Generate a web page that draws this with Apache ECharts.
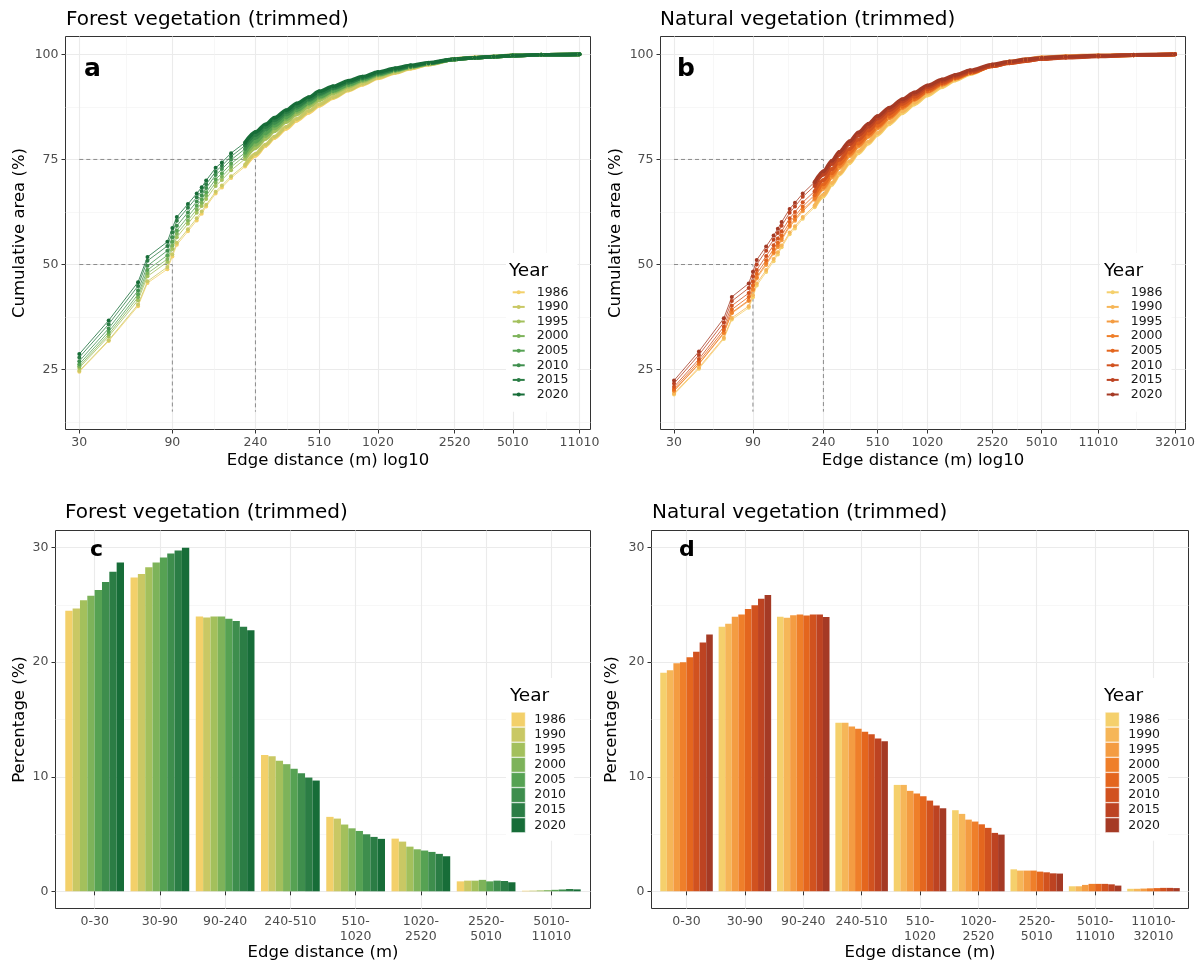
<!DOCTYPE html>
<html><head><meta charset="utf-8">
<script src="https://cdn.jsdelivr.net/npm/echarts@6/dist/echarts.min.js"></script>
<style>html,body{margin:0;padding:0;background:#fff}#c{width:1204px;height:967px}</style>
</head><body><div id="c"></div><script>
const years = ['1986','1990','1995','2000','2005','2010','2015','2020'];
const forestColors = ['#f3d06a','#c9c864','#a3c05c','#7db35a','#56a253','#3e8e4d','#2b7d45','#176d38'];
const naturalColors = ['#f5d06c','#f6b658','#f49c42','#ef7f2a','#e4661e','#d1521f','#bd4322','#a53a25'];

// panel a/b : edge distance (m)
const distForest = [30,42.43,60,67.08,84.85,90,94.87,108.17,120,127.28,134.16,150,161.55,180,212.13,240,270,300,345,390,450,510,600,720,850,1020,1250,1500,1850,2520,3200,4000,5010,7000,11010];
const distNatural = [30,42.43,60,67.08,84.85,90,94.87,108.17,120,127.28,134.16,150,161.55,180,212.13,240,270,300,345,390,450,510,600,720,850,1020,1250,1500,1850,2520,3200,4000,5010,7000,11010,18000,32010];
const ticksForest = [30,90,240,510,1020,2520,5010,11010];
const ticksNatural = [30,90,240,510,1020,2520,5010,11010,32010];

// cumulative area (%) - forest
const forest1986 = [24.5,31.8,40.1,45.6,48.9,51.9,54.7,57.9,60.5,62.1,63.8,66.9,68.3,70.6,73.3,75.9,78.2,80.1,82.3,84.2,86.1,87.8,89.6,91.4,92.8,94.3,95.6,96.6,97.6,98.9,99.3,99.5,99.8,99.9,100];
const forest1990 = [24.7,32.0,40.5,46.0,49.4,52.4,55.2,58.4,61.0,62.6,64.2,67.3,68.8,71.0,73.7,76.3,78.5,80.4,82.7,84.6,86.5,88.1,89.8,91.6,93.0,94.5,95.7,96.7,97.6,98.8,99.2,99.4,99.7,99.9,100];
const forest1995 = [25.4,32.9,41.5,47.2,50.6,53.7,56.5,59.7,62.3,63.9,65.6,68.7,70.1,72.4,75.1,77.7,79.9,81.7,83.9,85.7,87.5,89.1,90.7,92.3,93.6,94.9,96.0,96.9,97.7,98.8,99.2,99.4,99.7,99.9,100];
const forest2000 = [25.8,33.4,42.2,47.9,51.3,54.5,57.3,60.5,63.1,64.7,66.4,69.5,70.9,73.2,75.9,78.5,80.6,82.4,84.5,86.3,88.1,89.6,91.1,92.6,93.8,95.1,96.1,97.0,97.8,98.8,99.2,99.5,99.8,99.9,100];
const forest2005 = [26.3,34.0,42.9,48.7,52.2,55.4,58.1,61.4,64.0,65.5,67.2,70.3,71.7,74.0,76.6,79.2,81.2,83.0,85.0,86.7,88.4,89.9,91.3,92.8,94.0,95.2,96.2,97.0,97.8,98.8,99.2,99.4,99.7,99.9,100];
const forest2010 = [27.0,34.8,43.8,49.7,53.3,56.5,59.2,62.4,65.0,66.5,68.2,71.3,72.7,74.9,77.5,80.1,82.1,83.7,85.7,87.3,89.0,90.4,91.8,93.2,94.3,95.4,96.4,97.1,97.9,98.8,99.2,99.4,99.7,99.9,100];
const forest2015 = [27.9,35.8,44.9,50.9,54.4,57.7,60.4,63.5,66.0,67.5,69.1,72.1,73.5,75.7,78.3,80.8,82.7,84.3,86.2,87.7,89.3,90.7,92.0,93.3,94.4,95.5,96.4,97.2,97.9,98.8,99.2,99.4,99.7,99.9,100];
const forest2020 = [28.7,36.7,45.8,51.8,55.4,58.7,61.3,64.4,66.9,68.4,70.0,73.0,74.3,76.5,79.0,81.5,83.3,84.9,86.7,88.3,89.8,91.2,92.4,93.7,94.7,95.8,96.7,97.4,98.0,98.9,99.2,99.5,99.7,99.9,100];

// cumulative area (%) - natural
const natural1986 = [19.1,25.2,32.3,36.9,39.7,42.2,45.0,48.2,50.8,52.4,54.1,57.2,58.6,60.9,63.6,66.2,69.0,71.4,74.1,76.5,78.8,80.9,83.4,86.0,88.1,90.2,92.2,93.8,95.3,97.3,98.1,98.7,99.2,99.4,99.6,99.8,100];
const natural1990 = [19.3,25.5,32.6,37.3,40.1,42.7,45.5,48.7,51.3,52.9,54.5,57.6,59.1,61.3,64.0,66.6,69.4,71.7,74.5,76.9,79.2,81.3,83.8,86.4,88.5,90.6,92.5,94.0,95.5,97.4,98.2,98.7,99.2,99.4,99.6,99.8,100];
const natural1995 = [19.9,26.3,33.6,38.4,41.3,43.9,46.7,49.9,52.6,54.1,55.8,59.0,60.4,62.7,65.4,68.0,70.7,73.0,75.8,78.1,80.4,82.4,84.8,87.2,89.2,91.2,93.0,94.4,95.7,97.5,98.3,98.8,99.3,99.6,99.8,99.9,100];
const natural2000 = [20.0,26.4,33.8,38.6,41.5,44.2,47.0,50.3,52.9,54.5,56.2,59.3,60.8,63.1,65.7,68.4,71.1,73.4,76.1,78.3,80.6,82.6,84.9,87.3,89.2,91.1,92.8,94.2,95.5,97.2,98.0,98.5,99.0,99.4,99.6,99.8,100];
const natural2005 = [20.4,26.9,34.4,39.3,42.3,45.0,47.8,51.0,53.7,55.2,56.9,60.1,61.5,63.8,66.5,69.1,71.7,74.0,76.6,78.8,81.1,83.0,85.2,87.6,89.4,91.3,93.0,94.3,95.6,97.2,97.9,98.4,98.9,99.3,99.6,99.8,100];
const natural2010 = [20.9,27.5,35.2,40.2,43.2,45.9,48.7,52.0,54.6,56.2,57.9,61.0,62.5,64.8,67.4,70.1,72.7,74.9,77.5,79.7,81.9,83.8,85.9,88.2,89.9,91.7,93.2,94.5,95.7,97.2,97.9,98.4,98.9,99.3,99.6,99.8,100];
const natural2015 = [21.7,28.5,36.2,41.3,44.4,47.2,50.0,53.3,55.9,57.5,59.2,62.3,63.8,66.1,68.7,71.4,73.9,76.1,78.6,80.7,82.8,84.7,86.7,88.8,90.5,92.2,93.6,94.8,95.9,97.3,98.0,98.5,98.9,99.2,99.5,99.8,100];
const natural2020 = [22.4,29.3,37.2,42.3,45.5,48.3,51.1,54.3,56.9,58.5,60.1,63.2,64.7,66.9,69.6,72.2,74.7,76.8,79.3,81.4,83.5,85.3,87.3,89.3,90.9,92.6,94.0,95.1,96.2,97.6,98.3,98.8,99.2,99.5,99.7,99.9,100];

// guide (dashed) lines
const guideStartX = 30, guideBottomY = 15;
const guideX = [90, 240];
const guideY = [50, 75];

// panel c/d : percentage (%) per edge distance class
const binsForest = ['0-30','30-90','90-240','240-510','510-\n1020','1020-\n2520','2520-\n5010','5010-\n11010'];
const binsNatural = ['0-30','30-90','90-240','240-510','510-\n1020','1020-\n2520','2520-\n5010','5010-\n11010','11010-\n32010'];
const forestBar1986 = [24.5,27.4,24.0,11.9,6.5,4.6,0.87,0.05];
const forestBar1990 = [24.7,27.7,23.9,11.8,6.35,4.34,0.93,0.06];
const forestBar1995 = [25.4,28.3,24.0,11.4,5.83,3.9,0.93,0.08];
const forestBar2000 = [25.8,28.7,24.0,11.1,5.5,3.67,1.0,0.1];
const forestBar2005 = [26.3,29.15,23.8,10.7,5.27,3.56,0.87,0.13];
const forestBar2010 = [27.0,29.5,23.6,10.3,4.98,3.44,0.93,0.16];
const forestBar2015 = [27.9,29.76,23.1,9.93,4.75,3.27,0.9,0.2];
const forestBar2020 = [28.7,30.0,22.8,9.67,4.58,3.06,0.79,0.17];
const naturalBar1986 = [19.08,23.10,23.97,14.71,9.29,7.08,1.92,0.44,0.22];
const naturalBar1990 = [19.31,23.36,23.88,14.71,9.29,6.76,1.81,0.44,0.22];
const naturalBar1995 = [19.92,23.97,24.11,14.39,8.77,6.26,1.81,0.56,0.24];
const naturalBar2000 = [20.0,24.17,24.17,14.19,8.54,6.09,1.81,0.65,0.26];
const naturalBar2005 = [20.44,24.64,24.08,13.93,8.30,5.85,1.72,0.65,0.28];
const naturalBar2010 = [20.91,24.98,24.17,13.72,7.92,5.54,1.66,0.65,0.30];
const naturalBar2015 = [21.73,25.54,24.17,13.34,7.49,5.10,1.57,0.61,0.30];
const naturalBar2020 = [22.42,25.86,23.94,13.10,7.25,4.95,1.55,0.50,0.28];

const forestCum = [forest1986,forest1990,forest1995,forest2000,forest2005,forest2010,forest2015,forest2020];
const naturalCum = [natural1986,natural1990,natural1995,natural2000,natural2005,natural2010,natural2015,natural2020];
const forestBars = [forestBar1986,forestBar1990,forestBar1995,forestBar2000,forestBar2005,forestBar2010,forestBar2015,forestBar2020];
const naturalBars = [naturalBar1986,naturalBar1990,naturalBar1995,naturalBar2000,naturalBar2005,naturalBar2010,naturalBar2015,naturalBar2020];

const FONT = 'DejaVu Sans';
const L10 = v => Math.log10(v);
const midpoints = arr => arr.slice(1).map((v, i) => (arr[i] + v) / 2);

// layout
const gA = {left: 65.5, top: 36.5, width: 525, height: 393};
const gB = {left: 660.5, top: 36.5, width: 525, height: 393};
const gC = {left: 55.5, top: 530.5, width: 535, height: 378};
const gD = {left: 651.5, top: 530.5, width: 537, height: 378};
function inner(g, n) {
  const band = g.width / (n + 0.2);
  return {left: g.left + 0.1 * band, top: g.top, width: band * n, height: g.height};
}
const gCi = inner(gC, binsForest.length);
const gDi = inner(gD, binsNatural.length);
const xRangeA = [1.4063, 4.0982];
const xRangeB = [1.3955, 4.5689];
const yRangeAB = [10.75, 104.25];
const yRangeCD = [-1.5, 31.5];

const gridStyle = {show: true, borderColor: '#333333', borderWidth: 1, backgroundColor: 'transparent', containLabel: false};
const majorLine = {show: true, lineStyle: {color: '#ebebeb', width: 1.1}};
const minorLine = {show: true, lineStyle: {color: '#f2f2f2', width: 0.6}};
const tickStyle = {show: true, length: 4, lineStyle: {color: '#333333', width: 1}};
const labelStyle = {color: '#4d4d4d', fontSize: 12.5, fontFamily: FONT};

function majorAxis(grid, range, vals, fmt, margin) {
  return {
    type: 'value', gridIndex: grid, min: range[0], max: range[1],
    axisLine: {show: false},
    axisTick: Object.assign({customValues: vals}, tickStyle),
    axisLabel: Object.assign({customValues: vals, formatter: fmt, margin: margin, lineHeight: 14.5}, labelStyle),
    splitLine: majorLine
  };
}
function minorAxis(grid, range, vals) {
  return {
    type: 'value', gridIndex: grid, min: range[0], max: range[1],
    axisLine: {show: false},
    axisTick: {show: false, customValues: vals},
    axisLabel: {show: false, customValues: vals},
    splitLine: minorLine
  };
}

const logTicksA = ticksForest.map(L10);
const logTicksB = ticksNatural.map(L10);
const fmtLog = v => String(Math.round(Math.pow(10, v)));
const idxF = binsForest.map((b, i) => i + 1);
const idxN = binsNatural.map((b, i) => i + 1);

const xAxis = [
  majorAxis(0, xRangeA, logTicksA, fmtLog, 6),
  minorAxis(0, xRangeA, midpoints(logTicksA)),
  majorAxis(1, xRangeB, logTicksB, fmtLog, 6),
  minorAxis(1, xRangeB, midpoints(logTicksB)),
  majorAxis(2, [0.4, binsForest.length + 0.6], idxF, v => binsForest[Math.round(v) - 1], 6),
  {type: 'category', gridIndex: 3, data: binsForest, show: false},
  majorAxis(4, [0.4, binsNatural.length + 0.6], idxN, v => binsNatural[Math.round(v) - 1], 6),
  {type: 'category', gridIndex: 5, data: binsNatural, show: false}
];
const yTicksAB = [25, 50, 75, 100];
const yTicksCD = [0, 10, 20, 30];
const yAxis = [
  majorAxis(0, yRangeAB, yTicksAB, v => String(v), 7),
  minorAxis(0, yRangeAB, [12.5, 37.5, 62.5, 87.5]),
  majorAxis(1, yRangeAB, yTicksAB, v => String(v), 7),
  minorAxis(1, yRangeAB, [12.5, 37.5, 62.5, 87.5]),
  majorAxis(2, yRangeCD, yTicksCD, v => String(v), 7),
  minorAxis(2, yRangeCD, [5, 15, 25]),
  {type: 'value', gridIndex: 3, min: yRangeCD[0], max: yRangeCD[1], show: false},
  majorAxis(4, yRangeCD, yTicksCD, v => String(v), 7),
  minorAxis(4, yRangeCD, [5, 15, 25]),
  {type: 'value', gridIndex: 5, min: yRangeCD[0], max: yRangeCD[1], show: false}
];

const series = [];
function guides(xi, yi) {
  guideX.forEach((gx, k) => {
    series.push({
      type: 'line', xAxisIndex: xi, yAxisIndex: yi, silent: true, symbol: 'none', z: 1,
      data: [[L10(guideStartX), guideY[k]], [L10(gx), guideY[k]], [L10(gx), guideBottomY]],
      lineStyle: {color: '#808080', width: 0.9, type: [4, 3]}
    });
  });
}
guides(0, 0);
guides(2, 2);
const DENSE_FROM = 14;
function lines(prefix, dist, cum, colors, xi, yi) {
  cum.forEach((vals, i) => {
    const data = dist.map((d, j) => [L10(d), vals[j]]);
    series.push({
      type: 'line', name: prefix + '|' + years[i], xAxisIndex: xi, yAxisIndex: yi,
      data: data, symbol: 'circle', symbolSize: 4, showSymbol: true, z: 3,
      lineStyle: {color: colors[i], width: 0.8}, itemStyle: {color: colors[i]}
    });
    series.push({
      type: 'line', name: prefix + 'o|' + years[i], xAxisIndex: xi, yAxisIndex: yi,
      data: data.slice(DENSE_FROM), symbol: 'none', z: 3, smooth: 0.3, smoothMonotone: 'x',
      lineStyle: {color: colors[i], width: 3.6}
    });
  });
}
lines('A', distForest, forestCum, forestColors, 0, 0);
lines('B', distNatural, naturalCum, naturalColors, 2, 2);
function bars(prefix, vals, colors, xi, yi) {
  vals.forEach((v, i) => {
    series.push({
      type: 'bar', name: prefix + '|' + years[i], xAxisIndex: xi, yAxisIndex: yi,
      data: v, barGap: '0%', barCategoryGap: '10%', z: 3,
      itemStyle: {color: colors[i]}
    });
  });
}
bars('C', forestBars, forestColors, 5, 6);
bars('D', naturalBars, naturalColors, 7, 9);

function lineLegend(prefix, left, top) {
  return {
    data: years.map(y => prefix + '|' + y), formatter: n => n.split('|')[1],
    orient: 'vertical', left: left, top: top, padding: [32, 9, 10, 5.7], backgroundColor: '#ffffff',
    itemWidth: 12, itemHeight: 5, itemGap: 0, selectedMode: false, z: 8,
    textStyle: {fontSize: 12.5, lineHeight: 14.6, color: '#1a1a1a', fontFamily: FONT, padding: [0, 0, 0, 7]}
  };
}
function barLegend(prefix, left, top) {
  return {
    data: years.map(y => prefix + '|' + y), formatter: n => n.split('|')[1],
    orient: 'vertical', left: left, top: top, padding: [34, 8, 8, 5], backgroundColor: '#ffffff',
    icon: 'rect', itemWidth: 14, itemHeight: 14.6, itemGap: 0, selectedMode: false, z: 8,
    itemStyle: {borderColor: '#ffffff', borderWidth: 0.5},
    textStyle: {fontSize: 12.5, color: '#1a1a1a', fontFamily: FONT, padding: [0, 0, 0, 4]}
  };
}

function txt(text, x, y, size, opts) {
  opts = opts || {};
  return {
    type: 'text', x: x, y: y, z: 100, rotation: opts.rot || 0, silent: true,
    style: {text: text, fill: opts.fill || '#000000', fontSize: size, fontFamily: FONT,
      fontWeight: opts.bold ? 'bold' : 'normal', align: opts.align || 'left', verticalAlign: 'middle'}
  };
}
const graphics = [
  txt('Forest vegetation (trimmed)', 66, 20, 20),
  txt('Natural vegetation (trimmed)', 660, 20, 20),
  txt('Forest vegetation (trimmed)', 65, 513, 20),
  txt('Natural vegetation (trimmed)', 652, 513, 20),
  txt('a', 84, 69.5, 25, {bold: true}),
  txt('b', 677, 69.5, 25, {bold: true}),
  txt('c', 90, 550, 22, {bold: true}),
  txt('d', 679, 550, 22, {bold: true}),
  txt('Year', 509, 271.2, 18.5),
  txt('Year', 1104, 271.2, 18.5),
  txt('Year', 510, 696.5, 18.5),
  txt('Year', 1104, 696.5, 18.5),
  txt('Cumulative area (%)', 20, gA.top + gA.height / 2, 16.5, {rot: Math.PI / 2, align: 'center'}),
  txt('Cumulative area (%)', 616, gB.top + gB.height / 2, 16.5, {rot: Math.PI / 2, align: 'center'}),
  txt('Percentage (%)', 20, gC.top + gC.height / 2, 16.5, {rot: Math.PI / 2, align: 'center'}),
  txt('Percentage (%)', 612, gD.top + gD.height / 2, 16.5, {rot: Math.PI / 2, align: 'center'}),
  txt('Edge distance (m) log10', gA.left + gA.width / 2, 461, 16.5, {align: 'center'}),
  txt('Edge distance (m) log10', gB.left + gB.width / 2, 461, 16.5, {align: 'center'}),
  txt('Edge distance (m)', gC.left + gC.width / 2, 953, 16.5, {align: 'center'}),
  txt('Edge distance (m)', gD.left + gD.width / 2, 953, 16.5, {align: 'center'})
];

const chart = echarts.init(document.getElementById('c'), null, {renderer: 'canvas', width: 1204, height: 967});
chart.setOption({
  animation: false,
  backgroundColor: '#ffffff',
  textStyle: {fontFamily: FONT},
  grid: [
    Object.assign({}, gridStyle, gA),
    Object.assign({}, gridStyle, gB),
    Object.assign({}, gridStyle, gC),
    Object.assign({}, gCi, {show: false}),
    Object.assign({}, gridStyle, gD),
    Object.assign({}, gDi, {show: false})
  ],
  xAxis: xAxis,
  yAxis: yAxis,
  legend: [
    lineLegend('A', 506, 253),
    lineLegend('B', 1100, 253),
    barLegend('C', 506, 678),
    barLegend('D', 1100, 678)
  ],
  series: series,
  graphic: graphics
});
</script></body></html>
